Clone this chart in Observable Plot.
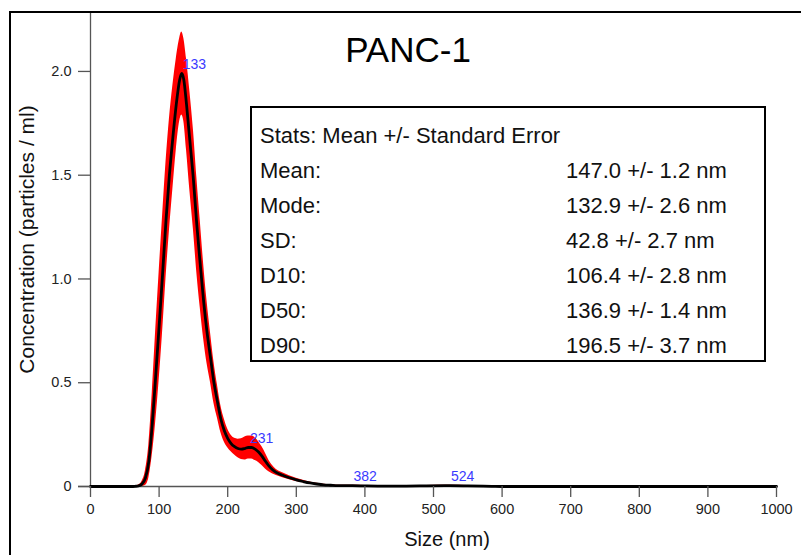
<!DOCTYPE html>
<html>
<head>
<meta charset="utf-8">
<script src="https://cdn.jsdelivr.net/npm/d3@7"></script>
<script src="https://cdn.jsdelivr.net/npm/@observablehq/plot@0.6"></script>
<style>
  html, body { margin: 0; padding: 0; background: #fff; }
  #wrap { position: relative; width: 801px; height: 555px; overflow: hidden; font-family: "Liberation Sans", Arial, sans-serif; }
  #wrap svg { position: absolute; left: 0; top: 0; }
  #border { position: absolute; left: 9px; top: 11px; width: 820px; height: 600px; border-left: 2.5px solid #000; border-top: 2.5px solid #000; pointer-events: none; }
  #stats { position: absolute; left: 250px; top: 106px; width: 516px; height: 256px; box-sizing: border-box; border: 2px solid #000; background: #fff; padding: 9.5px 0 0 8px; font-size: 22px; line-height: 35px; color: #111; }
  #stats .row { position: relative; height: 35px; white-space: nowrap; }
  #stats .val { position: absolute; left: 306px; top: 0; }
</style>
</head>
<body>
<div id="wrap"></div>
<script>
// ---- data ----
const title = "PANC-1";
const xLabel = "Size (nm)";
const yLabel = "Concentration (particles / ml)";

const sizes = [0, 50, 60, 65, 70, 75, 80, 85, 90, 95, 100, 105, 110, 115, 120, 125, 130, 133, 136, 140, 145, 150, 155, 160, 165, 170, 175, 180, 185, 190, 195, 200, 205, 210, 215, 220, 225, 230, 235, 240, 245, 250, 255, 260, 265, 270, 280, 290, 300, 310, 320, 330, 340, 350, 360, 382, 400, 430, 460, 490, 524, 550, 585, 600, 700, 800, 900, 1000];
const meanConc = [0, 0, 0, 0.001, 0.003, 0.012, 0.04, 0.12, 0.30, 0.53, 0.77, 1.02, 1.28, 1.50, 1.68, 1.84, 1.96, 1.99, 1.96, 1.84, 1.66, 1.48, 1.26, 1.07, 0.89, 0.74, 0.62, 0.50, 0.41, 0.325, 0.27, 0.232, 0.207, 0.192, 0.183, 0.18, 0.183, 0.188, 0.188, 0.18, 0.166, 0.146, 0.122, 0.099, 0.082, 0.069, 0.054, 0.042, 0.032, 0.024, 0.017, 0.012, 0.008, 0.006, 0.004, 0.004, 0.003, 0.002, 0.002, 0.003, 0.004, 0.003, 0.001, 0, 0, 0, 0, 0];
const seConc = [0, 0, 0, 0.001, 0.004, 0.012, 0.035, 0.08, 0.15, 0.22, 0.26, 0.28, 0.28, 0.27, 0.25, 0.22, 0.20, 0.20, 0.20, 0.22, 0.24, 0.24, 0.23, 0.21, 0.18, 0.15, 0.12, 0.10, 0.08, 0.065, 0.055, 0.045, 0.04, 0.04, 0.045, 0.05, 0.055, 0.055, 0.055, 0.055, 0.05, 0.045, 0.038, 0.028, 0.02, 0.015, 0.012, 0.01, 0.008, 0.006, 0.005, 0.004, 0.003, 0.002, 0.002, 0.002, 0.002, 0.002, 0.002, 0.002, 0.002, 0.002, 0.001, 0, 0, 0, 0, 0];

const peakSizes = [133, 231, 382, 524];
const peakConc = [1.99, 0.188, 0.004, 0.004];

const xTicks = [0, 100, 200, 300, 400, 500, 600, 700, 800, 900, 1000];
const yTicks = [0, 0.5, 1.0, 1.5, 2.0];

const statLabels = ["Mean:", "Mode:", "SD:", "D10:", "D50:", "D90:"];
const statValues = ["147.0 +/- 1.2 nm", "132.9 +/- 2.6 nm", "42.8 +/- 2.7 nm", "106.4 +/- 2.8 nm", "136.9 +/- 1.4 nm", "196.5 +/- 3.7 nm"];
const statsHeader = "Stats: Mean +/- Standard Error";

// ---- build ----
const rows = sizes.map((s, i) => ({size: s, mean: meanConc[i], se: seConc[i]}));
const peaks = peakSizes.map((s, i) => ({size: s, conc: peakConc[i], label: String(s)}));

const font = "Liberation Sans, Arial, sans-serif";

const chart = Plot.plot({
  width: 801,
  height: 555,
  marginLeft: 90,
  marginRight: 25,
  marginTop: 12,
  marginBottom: 69,
  style: {fontFamily: font, background: "transparent", overflow: "visible"},
  x: {domain: [0, 1000]},
  y: {domain: [0, 2.284]},
  marks: [
    Plot.areaY(rows, {x: "size", y1: d => Math.max(0, d.mean - d.se), y2: d => d.mean + d.se, fill: "#ff0000", curve: "monotone-x"}),
    Plot.ruleY([0], {stroke: "#555", strokeWidth: 1.3, insetLeft: -12}),
    Plot.ruleX([0], {stroke: "#555", strokeWidth: 1.3}),
    Plot.lineY(rows, {x: "size", y: "mean", stroke: "#000", strokeWidth: 2.8, curve: "monotone-x"}),
    Plot.axisX({ticks: xTicks, tickSize: 11, tickPadding: 6, fontSize: 14.5, stroke: "#555", strokeWidth: 1.3, fill: "#222", label: null,
      tickFormat: d => String(d)}),
    Plot.axisY({ticks: yTicks, tickSize: 12, tickPadding: 7, fontSize: 14.5, stroke: "#555", strokeWidth: 1.3, fill: "#222", label: null,
      tickFormat: d => d === 0 ? "0" : d.toFixed(1)}),
    Plot.text(peaks, {x: "size", y: "conc", text: "label", textAnchor: "start", lineAnchor: "middle", dx: 1, dy: -9, fill: "#3a3aff", fontSize: 14}),
    Plot.text([title], {frameAnchor: "top", dx: -25.5, dy: 49.7, lineAnchor: "bottom", fontSize: 35, fill: "#000"}),
    Plot.text([xLabel], {frameAnchor: "bottom", dx: 13.5, dy: 59, lineAnchor: "bottom", fontSize: 20, fill: "#111"}),
    Plot.text([yLabel], {frameAnchor: "left", textAnchor: "middle", dx: -63, dy: -10, rotate: -90, lineAnchor: "middle", fontSize: 21, fill: "#111"})
  ]
});

const wrap = document.getElementById("wrap");
wrap.appendChild(chart);

const border = document.createElement("div");
border.id = "border";
wrap.appendChild(border);

const stats = document.createElement("div");
stats.id = "stats";
const header = document.createElement("div");
header.className = "row";
header.textContent = statsHeader;
stats.appendChild(header);
statLabels.forEach((lab, i) => {
  const r = document.createElement("div");
  r.className = "row";
  const a = document.createElement("span");
  a.textContent = lab;
  const b = document.createElement("span");
  b.className = "val";
  b.textContent = statValues[i];
  r.appendChild(a);
  r.appendChild(b);
  stats.appendChild(r);
});
wrap.appendChild(stats);
</script>
</body>
</html>
